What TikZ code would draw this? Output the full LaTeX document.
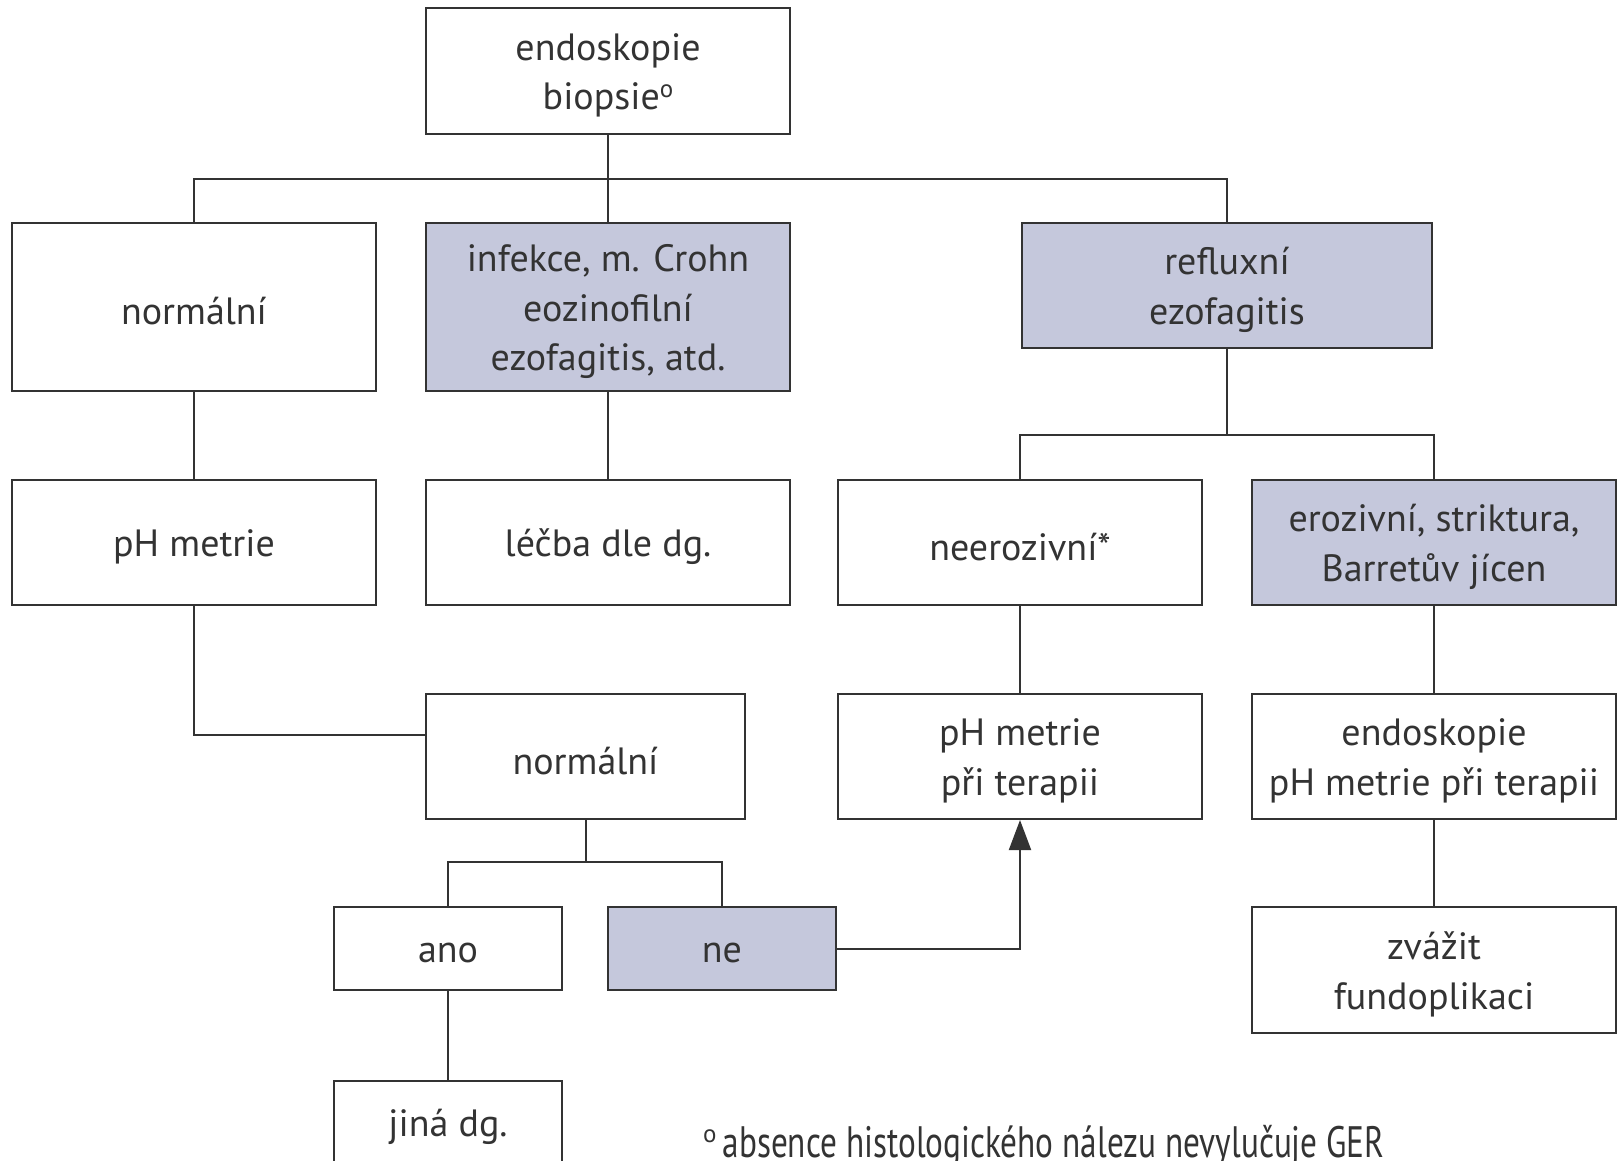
\documentclass[tikz,border=0pt]{standalone}
\usepackage{fontspec}
\setmainfont{PT Sans}
\usetikzlibrary{arrows.meta}
\definecolor{ink}{HTML}{333333}
\definecolor{shade}{HTML}{C5C8DC}
% small raised ring used as a footnote marker
\newcommand{\ringmark}{\raisebox{.33em}{\fontsize{25}{25}\selectfont o}}

\begin{document}
\begin{tikzpicture}[x=1pt,y=-1pt,
  box/.style={draw=ink, line width=2pt, inner sep=0pt},
  hl/.style={box, fill=shade},
  wh/.style 2 args={minimum width=#1pt, minimum height=#2pt},
  txt/.style={text=ink, align=center, inner sep=0pt, yshift=-4.5pt,
    font=\fontsize{38}{49.5}\selectfont},
  link/.style={draw=ink, line width=2pt},
]
\useasboundingbox (0,0) rectangle (1617,1160);
\clip (0,0) rectangle (1617,1160);

% top row
\node[box, wh={364}{126}, label={[txt]center:{endoskopie\\biopsie\ringmark}}] (top) at (608,71) {};

% first level
\node[box, wh={364}{168}, label={[txt]center:{normální}}] (n1) at (194,307) {};
\node[hl,  wh={364}{168}, label={[txt]center:{infekce, m. Crohn\\eozinofilní\\ezofagitis, atd.}}] (inf) at (608,307) {};
\node[hl,  wh={410}{125}, label={[txt]center:{refluxní\\ezofagitis}}] (ref) at (1227,285.5) {};

% second level
\node[box, wh={364}{125}, label={[txt]center:{pH metrie}}]     (ph1)   at (194,542.5)  {};
\node[box, wh={364}{125}, label={[txt]center:{léčba dle dg.}}] (lecba) at (608,542.5)  {};
\node[box, wh={364}{125}, label={[txt]center:{neerozivní*}}]   (neero) at (1020,542.5) {};
\node[hl,  wh={364}{125}, label={[txt]center:{erozivní, striktura,\\Barretův jícen}}] (eroz) at (1434,542.5) {};

% third level
\node[box, wh={319}{125}, label={[txt]center:{normální}}] (n2) at (585.5,756.5) {};
\node[box, wh={364}{125}, label={[txt]center:{pH metrie\\při terapii}}] (phter) at (1020,756.5) {};
\node[box, wh={364}{125}, label={[txt]center:{endoskopie\\pH metrie při terapii}}] (endo2) at (1434,756.5) {};

% fourth level
\node[box, wh={228}{83},  label={[txt]center:{ano}}] (ano) at (448,948.5) {};
\node[hl,  wh={228}{83},  label={[txt]center:{ne}}]  (ne)  at (722,948.5) {};
\node[box, wh={364}{126}, label={[txt]center:{zvážit\\fundoplikaci}}] (zvazit) at (1434,970) {};
\node[box, wh={228}{83},  label={[txt]center:{jiná dg.}}] (jina) at (448,1122.5) {};

% footnote: marker, then horizontally condensed text
\node[anchor=base west, inner sep=0pt, text=ink, font=\fontsize{44}{50}\selectfont]
  (note) at (703,1157) {\ringmark\hspace{6pt}\resizebox{662pt}{\height}{absence histologického nálezu nevylučuje GER}};

% junction points
\coordinate (j1) at (608,179);
\coordinate (j2) at (1227,435);
\coordinate (j3) at (194,735);
\coordinate (j4) at (585.5,862);

% connectors
\draw[link] (top.south) -- (inf.north);
\draw[link] (n1.north) |- (j1) -| (ref.north);
\draw[link] (n1) -- (ph1);
\draw[link] (inf) -- (lecba);
\draw[link] (ref.south) -- (j2);
\draw[link] (neero.north) |- (j2) -| (eroz.north);
\draw[link] (neero) -- (phter);
\draw[link] (eroz) -- (endo2);
\draw[link] (endo2) -- (zvazit);
\draw[link] (ph1.south) -- (j3) -- (j3 -| n2.west);
\draw[link] (n2.south) -- (j4);
\draw[link] (ano.north) |- (j4) -| (ne.north);
\draw[link] (ano) -- (jina);
\draw[link, -{Triangle[length=30pt,width=22pt]}] (ne.east) -| (phter.south);
\end{tikzpicture}
\end{document}
